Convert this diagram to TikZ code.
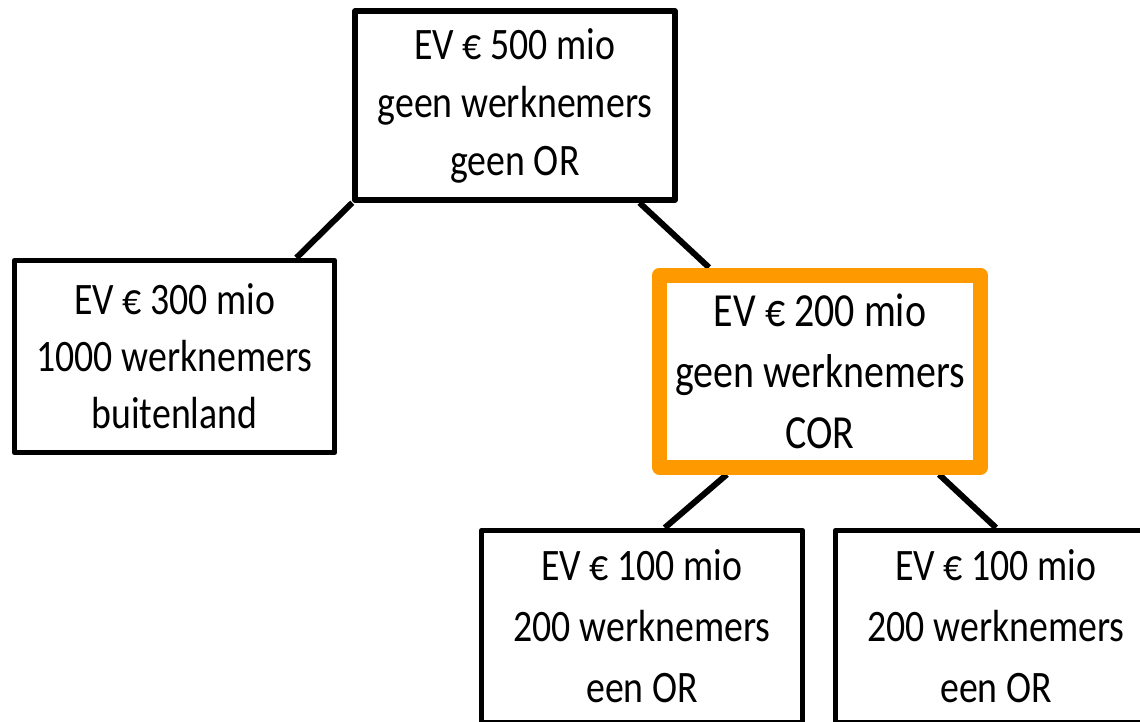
\documentclass[tikz,border=0pt]{standalone}
\usepackage{fontspec}
\setmainfont{Carlito}[FakeStretch=0.84]
\usetikzlibrary{backgrounds}
\definecolor{corange}{RGB}{255,153,0}

\begin{document}
\begin{tikzpicture}[x=1pt, y=-1pt,
    entity/.style={draw, fill=white, line width=5.5pt, line join=round, minimum width=320pt, minimum height=192pt, align=center, inner sep=0pt, font=\fontsize{45}{58}\selectfont},
    cor/.style={entity, draw=corange, line width=15pt, minimum width=321pt, font=\fontsize{47.5}{61}\selectfont},
    sub/.style={entity, minimum width=321pt, font=\fontsize{45}{61}\selectfont},
    link/.style={line width=6pt}]
    \useasboundingbox (0,0) rectangle (1140,721);

    % Holding - top
    \node[entity, minimum height=189pt] (holding) at (515,105.5) {EV € 500 mio\\geen werknemers\\geen OR};

    % Second tier
    \node[entity, font=\fontsize{45}{57}\selectfont] (abroad) at (174.5,356.5) {EV € 300 mio\\1000 werknemers\\buitenland};
    \node[cor] (cor) at (820,371) {EV € 200 mio\\geen werknemers\\COR};

    % Subsidiaries - bottom tier
    \node[sub] (subA) at (642,626.5) {EV € 100 mio\\200 werknemers\\een OR};
    \node[sub] (subB) at (996,626.5) {EV € 100 mio\\200 werknemers\\een OR};

    % Connections
    \begin{scope}[on background layer]
        \draw[link] (holding.south west) -- (abroad.39);
        \draw[link] (holding.-38) -- (cor.137);
        \draw[link] (cor.-132) -- (subA.77);
        \draw[link] (cor.-41) -- (subB.north);
    \end{scope}
\end{tikzpicture}
\end{document}
